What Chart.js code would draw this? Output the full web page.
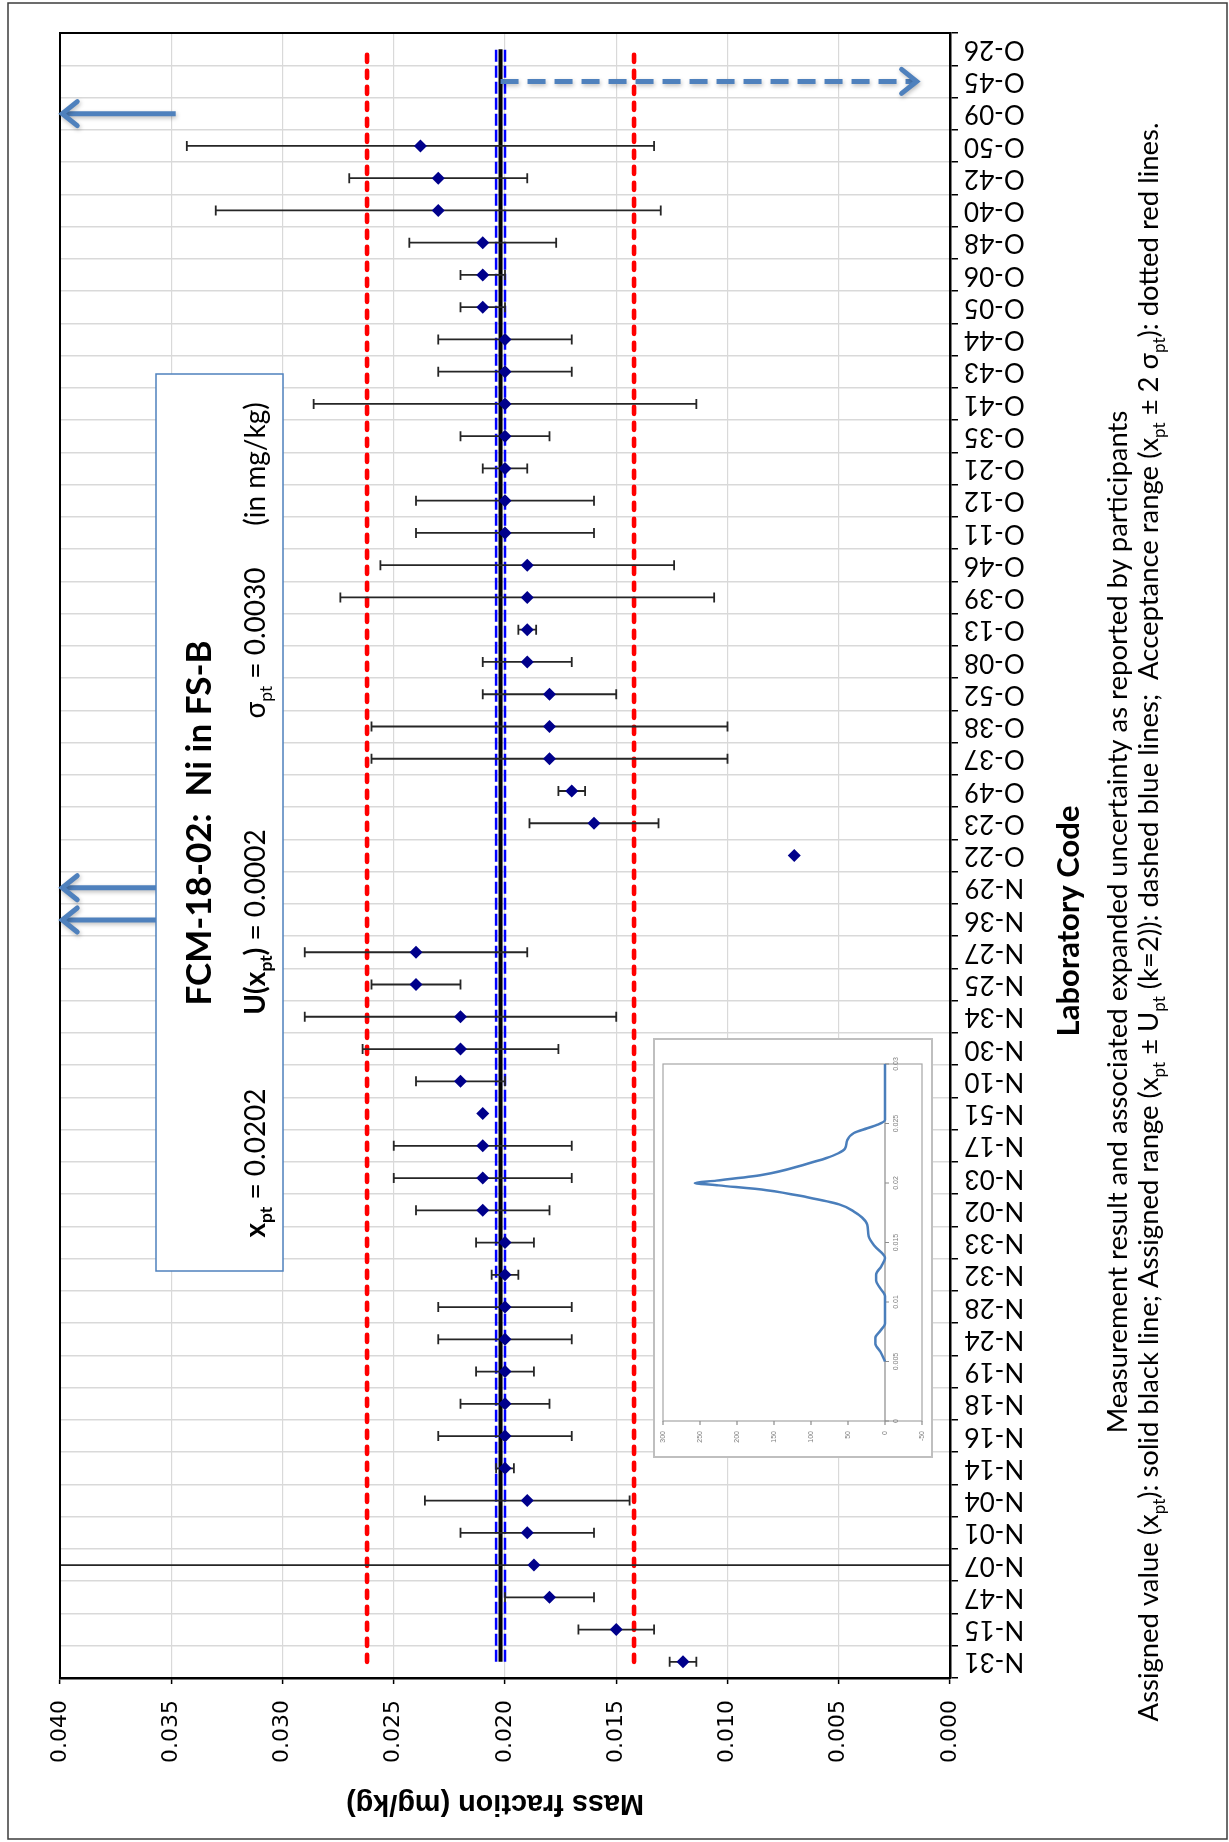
<!DOCTYPE html>
<html>
<head>
<meta charset="utf-8">
<title>FCM-18-02: Ni in FS-B</title>
<script src="https://cdn.jsdelivr.net/npm/chart.js@4.4.1/dist/chart.umd.min.js"></script>
<style>
  html, body { margin: 0; padding: 0; background: #fff; }
  #wrap { position: relative; width: 1229px; height: 1842px; }
  #mainChart { position: absolute; left: 0; top: 0; }
  #densityChart { position: absolute; left: 653px; top: 1038px; }
</style>
</head>
<body>
<div id="wrap">
  <canvas id="mainChart" width="1229" height="1842"></canvas>
  <canvas id="densityChart" width="280" height="420"></canvas>
</div>
<script>
// Laboratory codes, from the bottom of the chart to the top
const labCodes = [
  'N-31', 'N-15', 'N-47', 'N-07', 'N-01', 'N-04', 'N-14', 'N-16', 'N-18', 'N-19',
  'N-24', 'N-28', 'N-32', 'N-33', 'N-02', 'N-03', 'N-17', 'N-51', 'N-10', 'N-30',
  'N-34', 'N-25', 'N-27', 'N-36', 'N-29', 'O-22', 'O-23', 'O-49', 'O-37', 'O-38',
  'O-52', 'O-08', 'O-13', 'O-39', 'O-46', 'O-11', 'O-12', 'O-21', 'O-35', 'O-41',
  'O-43', 'O-44', 'O-05', 'O-06', 'O-48', 'O-40', 'O-42', 'O-50', 'O-09', 'O-45',
  'O-26',
];

// Reported mass fraction (mg/kg), null = not plotted
const labResults = [
  0.0120, 0.0150, 0.0180, 0.0187, 0.0190, 0.0190, 0.0200, 0.0200, 0.0200, 0.0200,
  0.0200, 0.0200, 0.0200, 0.0200, 0.0210, 0.0210, 0.0210, 0.0210, 0.0220, 0.0220,
  0.0220, 0.0240, 0.0240, null, null, 0.0070, 0.0160, 0.0170, 0.0180, 0.0180,
  0.0180, 0.0190, 0.0190, 0.0190, 0.0190, 0.0200, 0.0200, 0.0200, 0.0200, 0.0200,
  0.0200, 0.0200, 0.0210, 0.0210, 0.0210, 0.0230, 0.0230, 0.0238, null, null,
  null,
];

// Expanded uncertainty reported with each result
const labUncertainty = [
  0.0006, 0.0017, 0.0020, 0.0500, 0.0030, 0.0046, 0.0004, 0.0030, 0.0020, 0.0013,
  0.0030, 0.0030, 0.0006, 0.0013, 0.0030, 0.0040, 0.0040, null, 0.0020, 0.0044,
  0.0070, 0.0020, 0.0050, null, null, null, 0.0029, 0.0006, 0.0080, 0.0080,
  0.0030, 0.0020, 0.0004, 0.0084, 0.0066, 0.0040, 0.0040, 0.0010, 0.0020, 0.0086,
  0.0030, 0.0030, 0.0010, 0.0010, 0.0033, 0.0100, 0.0040, 0.0105, null, null,
  null,
];

const assignedValue = 0.0202;
const assignedUncertainty = 0.0002;
const sigmaPt = 0.0030;

const massTicks = [0, 0.005, 0.010, 0.015, 0.020, 0.025, 0.030, 0.035, 0.040];

// results above the scale (arrow to the left) and below it (arrow to the right)
const highArrowLabs = ['N-36', 'N-29', 'O-09'];
const highArrowTail = [0.0356, 0.0356, 0.0348];
const highArrowTip = 0.0399;
const lowArrowLab = 'O-45';
const lowArrowTip = 0.0015;

// kernel density of the results (inset)
const densityConc = [
  0.0050, 0.0058, 0.0065, 0.0070, 0.0076, 0.0082, 0.0105, 0.0112, 0.0118, 0.0123,
  0.0130, 0.0137, 0.0147, 0.0155, 0.0165, 0.0171, 0.0176, 0.0182, 0.0188, 0.0194,
  0.0198, 0.0200, 0.0202, 0.0207, 0.0216, 0.0221, 0.0225, 0.0229, 0.0236, 0.0242,
  0.0246, 0.0249, 0.0253, 0.0300,
];
const densityValue = [
  0, 6, 13, 13, 6, 0, 0, 7, 12, 12,
  5, 0, 14, 22, 24, 31, 42, 62, 105, 160,
  225, 257, 228, 165, 106, 79, 63, 54, 51, 42,
  24, 10, 0, 0,
];
const densityConcTicks = [0, 0.005, 0.01, 0.015, 0.02, 0.025, 0.03];
const densityValueTicks = [-50, 0, 50, 100, 150, 200, 250, 300];

const SANS = 'Lato, "Open Sans", sans-serif';

// draw a run of text pieces (some bold / subscript) rotated by rot
function drawText(ctx, parts, px, py, opts) {
  const family = opts.family || SANS;
  const font = (p, s) => `${p.b ? 'bold ' : ''}${p.sub ? s * 0.62 : s}px ${family}`;
  const measure = (s) =>
    parts.reduce((w, p) => {
      ctx.font = font(p, s);
      return w + ctx.measureText(p.t).width;
    }, 0);
  let size = opts.size;
  if (opts.fit) size = (size * opts.fit) / measure(size);
  const total = measure(size);
  ctx.save();
  ctx.translate(px, py);
  ctx.rotate(opts.rot);
  ctx.fillStyle = '#000';
  ctx.textAlign = 'left';
  ctx.textBaseline = 'alphabetic';
  let cx = opts.align === 'center' ? -total / 2 : 0;
  parts.forEach((p) => {
    ctx.font = font(p, size);
    ctx.fillText(p.t, cx, p.sub ? size * 0.25 : 0);
    cx += ctx.measureText(p.t).width;
  });
  ctx.restore();
}

function drawArrow(ctx, x1, x2, y, dashed) {
  const dir = Math.sign(x2 - x1);
  ctx.save();
  ctx.strokeStyle = '#4f81bd';
  ctx.lineWidth = 5;
  ctx.shadowColor = 'rgba(0, 0, 0, 0.25)';
  ctx.shadowBlur = 4;
  ctx.shadowOffsetX = 1;
  ctx.shadowOffsetY = 2;
  if (dashed) ctx.setLineDash([18, 9]);
  ctx.beginPath();
  ctx.moveTo(x1, y);
  ctx.lineTo(x2 - dir * 3, y);
  ctx.stroke();
  ctx.setLineDash([]);
  ctx.lineCap = 'round';
  ctx.lineJoin = 'miter';
  ctx.beginPath();
  ctx.moveTo(x2 - dir * 15, y - 12);
  ctx.lineTo(x2, y);
  ctx.lineTo(x2 - dir * 15, y + 12);
  ctx.stroke();
  ctx.restore();
}

const pt = (t, b) => ({ t: t, sub: true, b: b });

const decorations = {
  id: 'decorations',
  beforeDraw(chart) {
    const ctx = chart.ctx;
    ctx.save();
    ctx.fillStyle = '#fff';
    ctx.fillRect(0, 0, chart.width, chart.height);
    ctx.restore();
  },
  beforeDatasetDraw(chart, args) {
    if (args.index !== 0) return;
    // error bars under the diamonds
    const { ctx, chartArea: a, scales: { x, y } } = chart;
    ctx.save();
    ctx.beginPath();
    ctx.rect(a.left, a.top, a.right - a.left, a.bottom - a.top);
    ctx.clip();
    ctx.strokeStyle = '#262626';
    ctx.lineWidth = 1.8;
    labResults.forEach((v, i) => {
      const u = labUncertainty[i];
      if (v == null || u == null) return;
      const py = y.getPixelForValue(i);
      const x1 = x.getPixelForValue(v + u);
      const x2 = x.getPixelForValue(v - u);
      ctx.beginPath();
      ctx.moveTo(x1, py);
      ctx.lineTo(x2, py);
      ctx.moveTo(x1, py - 5);
      ctx.lineTo(x1, py + 5);
      ctx.moveTo(x2, py - 5);
      ctx.lineTo(x2, py + 5);
      ctx.stroke();
    });
    ctx.restore();
  },
  afterDatasetsDraw(chart) {
    const { ctx, chartArea: a, scales: { x, y } } = chart;

    // plot frame and outer frame
    ctx.save();
    ctx.strokeStyle = '#000';
    ctx.lineWidth = 2;
    ctx.strokeRect(a.left, a.top, a.right - a.left, a.bottom - a.top);
    ctx.strokeStyle = '#3c3c3c';
    ctx.lineWidth = 1.5;
    ctx.strokeRect(8, 3, 1219, 1836);
    ctx.restore();

    // off-scale arrows
    highArrowLabs.forEach((lab, i) => {
      const py = y.getPixelForValue(labCodes.indexOf(lab));
      drawArrow(ctx, x.getPixelForValue(highArrowTail[i]), x.getPixelForValue(highArrowTip), py, false);
    });
    drawArrow(
      ctx,
      x.getPixelForValue(assignedValue),
      x.getPixelForValue(lowArrowTip),
      y.getPixelForValue(labCodes.indexOf(lowArrowLab)),
      true
    );

    // title box
    ctx.save();
    ctx.fillStyle = '#fff';
    ctx.fillRect(156, 374, 127, 897);
    ctx.strokeStyle = '#4f81bd';
    ctx.lineWidth = 1.5;
    ctx.strokeRect(156, 374, 127, 897);
    ctx.restore();

    const up = -Math.PI / 2;
    drawText(ctx, [{ t: 'FCM-18-02:  Ni in FS-B', b: true }], 211, 823,
      { size: 34, rot: up, align: 'center', fit: 365 });
    drawText(ctx, [{ t: 'x', b: true }, pt('pt', true), { t: ' = ' + assignedValue.toFixed(4) }], 265, 1163,
      { size: 28, rot: up, align: 'center' });
    drawText(ctx, [{ t: 'U(x', b: true }, pt('pt', true), { t: ')', b: true }, { t: ' = ' + assignedUncertainty.toFixed(4) }], 265, 922,
      { size: 28, rot: up, align: 'center' });
    drawText(ctx, [{ t: 'σ' }, pt('pt'), { t: ' = ' + sigmaPt.toFixed(4) }], 265, 643,
      { size: 28, rot: up, align: 'center' });
    drawText(ctx, [{ t: '(in mg/kg)' }], 265, 464, { size: 28, rot: up, align: 'center' });

    // axis titles and notes
    drawText(ctx, [{ t: 'Mass fraction (mg/kg)', b: true }], (a.left + a.right) / 2 - 10, 1795,
      { size: 24, rot: Math.PI, align: 'center', fit: 298, family: '"Liberation Sans", Arial, sans-serif' });
    drawText(ctx, [{ t: 'Laboratory Code', b: true }], 1079, 921,
      { size: 28, rot: up, align: 'center', fit: 231 });
    drawText(ctx, [{ t: 'Measurement result and associated expanded uncertainty as reported by participants' }], 1127, 922,
      { size: 26, rot: up, align: 'center', fit: 1023 });
    drawText(ctx, [
      { t: 'Assigned value (x' }, pt('pt'), { t: '): solid black line; Assigned range (x' }, pt('pt'),
      { t: ' ± U' }, pt('pt'), { t: ' (k=2)): dashed blue lines;  Acceptance range (x' }, pt('pt'),
      { t: ' ± 2 σ' }, pt('pt'), { t: '): dotted red lines.' },
    ], 1158, 922, { size: 24, rot: up, align: 'center', fit: 1600 });
  },
};

const refLine = (value, color, width, dash, order) => ({
  label: 'ref',
  data: labCodes.map(() => value),
  borderColor: color,
  borderWidth: width,
  borderDash: dash,
  pointRadius: 0,
  fill: false,
  order: order,
});

const redLow = refLine(assignedValue - 2 * sigmaPt, '#ff0000', 4.6, [7, 9], 4);
const redHigh = refLine(assignedValue + 2 * sigmaPt, '#ff0000', 4.6, [7, 9], 4);
redLow.borderCapStyle = 'round';
redHigh.borderCapStyle = 'round';

new Chart(document.getElementById('mainChart'), {
  type: 'line',
  data: {
    labels: labCodes,
    datasets: [
      {
        label: 'Result',
        data: labResults,
        showLine: false,
        pointStyle: 'rectRot',
        pointRadius: 6.5,
        pointBackgroundColor: '#00008b',
        pointBorderColor: '#00008b',
        pointBorderWidth: 0,
        order: 0,
      },
      redLow,
      redHigh,
      refLine(assignedValue - assignedUncertainty, '#0000ff', 2.5, [12, 4], 3),
      refLine(assignedValue + assignedUncertainty, '#0000ff', 2.5, [12, 4], 3),
      refLine(assignedValue, '#000000', 4, [], 2),
    ],
  },
  options: {
    indexAxis: 'y',
    responsive: false,
    animation: false,
    devicePixelRatio: 1,
    layout: { padding: { left: 60, top: 33, right: 199, bottom: 64 } },
    plugins: { legend: { display: false }, tooltip: { enabled: false } },
    scales: {
      x: {
        type: 'linear',
        position: 'bottom',
        reverse: true,
        min: 0,
        max: 0.04,
        afterBuildTicks: (s) => { s.ticks = massTicks.map((v) => ({ value: v })); },
        afterFit: (s) => { s.height = 100; },
        grid: { color: '#d9d9d9', lineWidth: 1.2, tickLength: 6, tickColor: '#000', tickWidth: 1.5 },
        border: { color: '#000', width: 2.5 },
        ticks: {
          minRotation: 90,
          maxRotation: 90,
          padding: 16,
          color: '#000',
          font: { family: '"DejaVu Sans", sans-serif', size: 22 },
          callback: (v) => Number(v).toFixed(3),
        },
      },
      y: {
        type: 'category',
        position: 'right',
        reverse: true,
        offset: true,
        afterFit: (s) => { s.width = 80; },
        grid: { offset: true, color: '#d9d9d9', lineWidth: 1.5, tickLength: 8, tickColor: '#000', tickWidth: 1.5 },
        border: { color: '#000', width: 2.5 },
        ticks: {
          autoSkip: false,
          minRotation: 180,
          maxRotation: 180,
          crossAlign: 'center',
          padding: 6,
          color: '#000',
          font: { family: SANS, size: 26 },
        },
      },
    },
  },
  plugins: [decorations],
});

// inset: distribution of the results
const insetFrame = {
  id: 'insetFrame',
  beforeDraw(chart) {
    const ctx = chart.ctx;
    ctx.save();
    ctx.fillStyle = '#fff';
    ctx.fillRect(0, 0, chart.width, chart.height);
    ctx.restore();
  },
  beforeDatasetsDraw(chart) {
    const { ctx, chartArea: a, scales: { x, y } } = chart;
    ctx.save();
    ctx.strokeStyle = '#bfbfbf';
    ctx.lineWidth = 2;
    ctx.strokeRect(1, 1, chart.width - 2, chart.height - 2);
    ctx.strokeStyle = '#a6a6a6';
    ctx.lineWidth = 1.2;
    ctx.strokeRect(a.left, a.top, a.right - a.left, a.bottom - a.top);

    const x0 = x.getPixelForValue(0);
    ctx.strokeStyle = '#8c8c8c';
    ctx.beginPath();
    ctx.moveTo(x0, y.getPixelForValue(0));
    ctx.lineTo(x0, y.getPixelForValue(0.03));
    densityConcTicks.forEach((c) => {
      const py = y.getPixelForValue(c);
      ctx.moveTo(x0, py);
      ctx.lineTo(x0 + 4, py);
    });
    densityValueTicks.forEach((d) => {
      const px = x.getPixelForValue(d);
      ctx.moveTo(px, a.bottom);
      ctx.lineTo(px, a.bottom + 4);
    });
    ctx.stroke();

    ctx.fillStyle = '#7f7f7f';
    ctx.font = '7px "Liberation Sans", sans-serif';
    densityConcTicks.forEach((c) => {
      ctx.save();
      ctx.translate(x0 + 8, y.getPixelForValue(c));
      ctx.rotate(-Math.PI / 2);
      ctx.textAlign = 'center';
      ctx.textBaseline = 'top';
      ctx.fillText(String(c), 0, 0);
      ctx.restore();
    });
    densityValueTicks.forEach((d) => {
      ctx.save();
      ctx.translate(x.getPixelForValue(d), a.bottom + 10);
      ctx.rotate(-Math.PI / 2);
      ctx.textAlign = 'right';
      ctx.textBaseline = 'middle';
      ctx.fillText(String(d), 0, 0);
      ctx.restore();
    });
    ctx.restore();
  },
};

new Chart(document.getElementById('densityChart'), {
  type: 'line',
  data: {
    datasets: [
      {
        data: densityConc.map((c, i) => ({ x: densityValue[i], y: c })),
        borderColor: '#4a7ebb',
        borderWidth: 2.5,
        pointRadius: 0,
        cubicInterpolationMode: 'monotone',
        fill: false,
      },
    ],
  },
  options: {
    indexAxis: 'y',
    responsive: false,
    animation: false,
    devicePixelRatio: 1,
    layout: { padding: { left: 10, right: 11, top: 26, bottom: 37 } },
    plugins: { legend: { display: false }, tooltip: { enabled: false } },
    scales: {
      x: { type: 'linear', display: false, min: -50, max: 300, reverse: true },
      y: { type: 'linear', display: false, min: 0, max: 0.03 },
    },
  },
  plugins: [insetFrame],
});
</script>
</body>
</html>
